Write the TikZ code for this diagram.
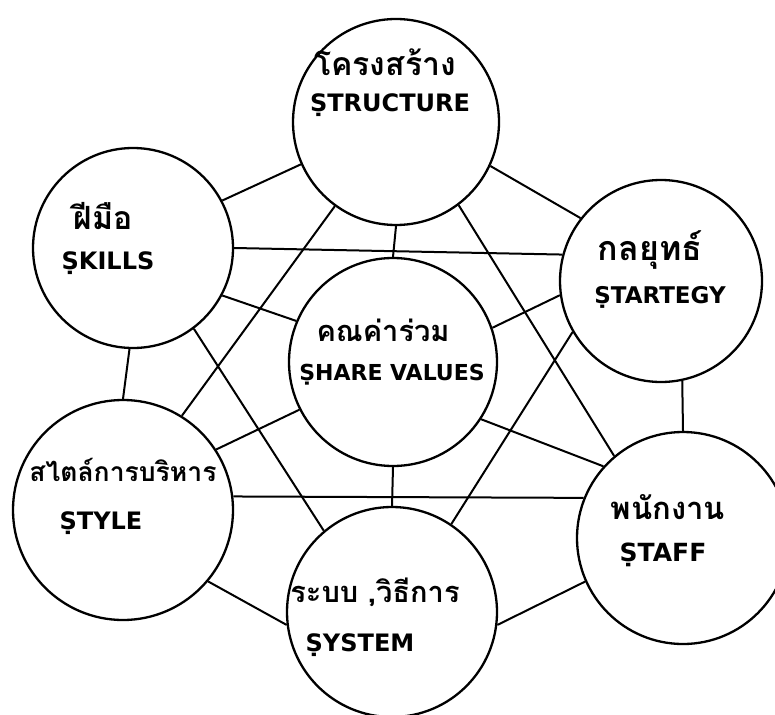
\documentclass[tikz,border=0pt]{standalone}
\usepackage{fontspec}
\newfontfamily\thaifont[Script=Thai]{Loma}
\newfontfamily\latfont{DejaVu Sans}
\begin{document}
\begin{tikzpicture}[x=1pt,y=-1pt,
  circ/.style={draw, circle, line width=2.3pt, fill=white, inner sep=0pt},
  link/.style={line width=2pt},
  th/.style={font=\thaifont\bfseries\fontsize{#1}{#1}\selectfont, inner sep=0pt},
  th/.default=30,
  la/.style={font=\latfont\bfseries\fontsize{#1}{#1}\selectfont, inner sep=0pt},
  la/.default=24]
\clip (0,0) rectangle (775,714);
\fill[white] (0,0) rectangle (775,714);
% circles
\node[circ, minimum size=206pt] (str) at (396,122) {};
\node[circ, minimum size=200pt] (ski) at (133,248) {};
\node[circ, minimum size=202pt] (stg) at (661,281) {};
\node[circ, minimum size=208pt] (shv) at (393,362) {};
\node[circ, minimum size=220pt] (sty) at (123,510) {};
\node[circ, minimum size=212pt] (stf) at (683,538) {};
\node[circ, minimum size=210pt] (sys) at (392,612) {};
% labels
\node[th=32] (strT) at (385,62) {โครงสร้าง};
\node[la=24] (strL) at (390,105) {ṢTRUCTURE};
\node[th=32] (skiT) at (103,216) {ฝีมือ};
\node[la=24] (skiL) at (108,263) {ṢKILLS};
\node[th=34] (stgT) at (650,250) {กลยุทธ์};
\node[la=23] (stgL) at (660,297) {ṢTARTEGY};
\node[th=29] (shvT) at (383,330) {คณค่าร่วม};
\node[la=22] (shvL) at (392,375) {ṢHARE VALUES};
\node[th=26.5] (styT) at (123,470) {สไตล์การบริหาร};
\node[la=24] (styL) at (101,523) {ṢTYLE};
\node[th=31] (stfT) at (668,507) {พนักงาน};
\node[la=25] (stfL) at (663,555) {ṢTAFF};
\node[th=29] (sysT) at (375,592) {ระบบ ,วิธีการ};
\node[la=24] (sysL) at (360,645) {ṢYSTEM};
% connectors
\draw[link] (str.204) -- (ski.28);
\draw[link] (str.335) -- (stg.142);
\draw[link] (ski.0) -- (stg.165);
\draw[link] (ski.332) -- (shv.157);
\draw[link] (stg.188) -- (shv.19);
\draw[link] (str.270) -- (shv.90);
\draw[link] (str.234) -- (sty.58);
\draw[link] (str.307) -- (stf.130);
\draw[link] (ski.268) -- (sty.90);
\draw[link] (ski.307) -- (sys.130);
\draw[link] (stg.282) -- (stf.90);
\draw[link] (stg.210) -- (sys.56);
\draw[link] (shv.207) -- (sty.33);
\draw[link] (shv.327) -- (stf.138);
\draw[link] (sty.7) -- (stf.158);
\draw[link] (shv.270) -- (sys.90);
\draw[link] (sty.320) -- (sys.187);
\draw[link] (stf.204) -- (sys.353);
\end{tikzpicture}
\end{document}
